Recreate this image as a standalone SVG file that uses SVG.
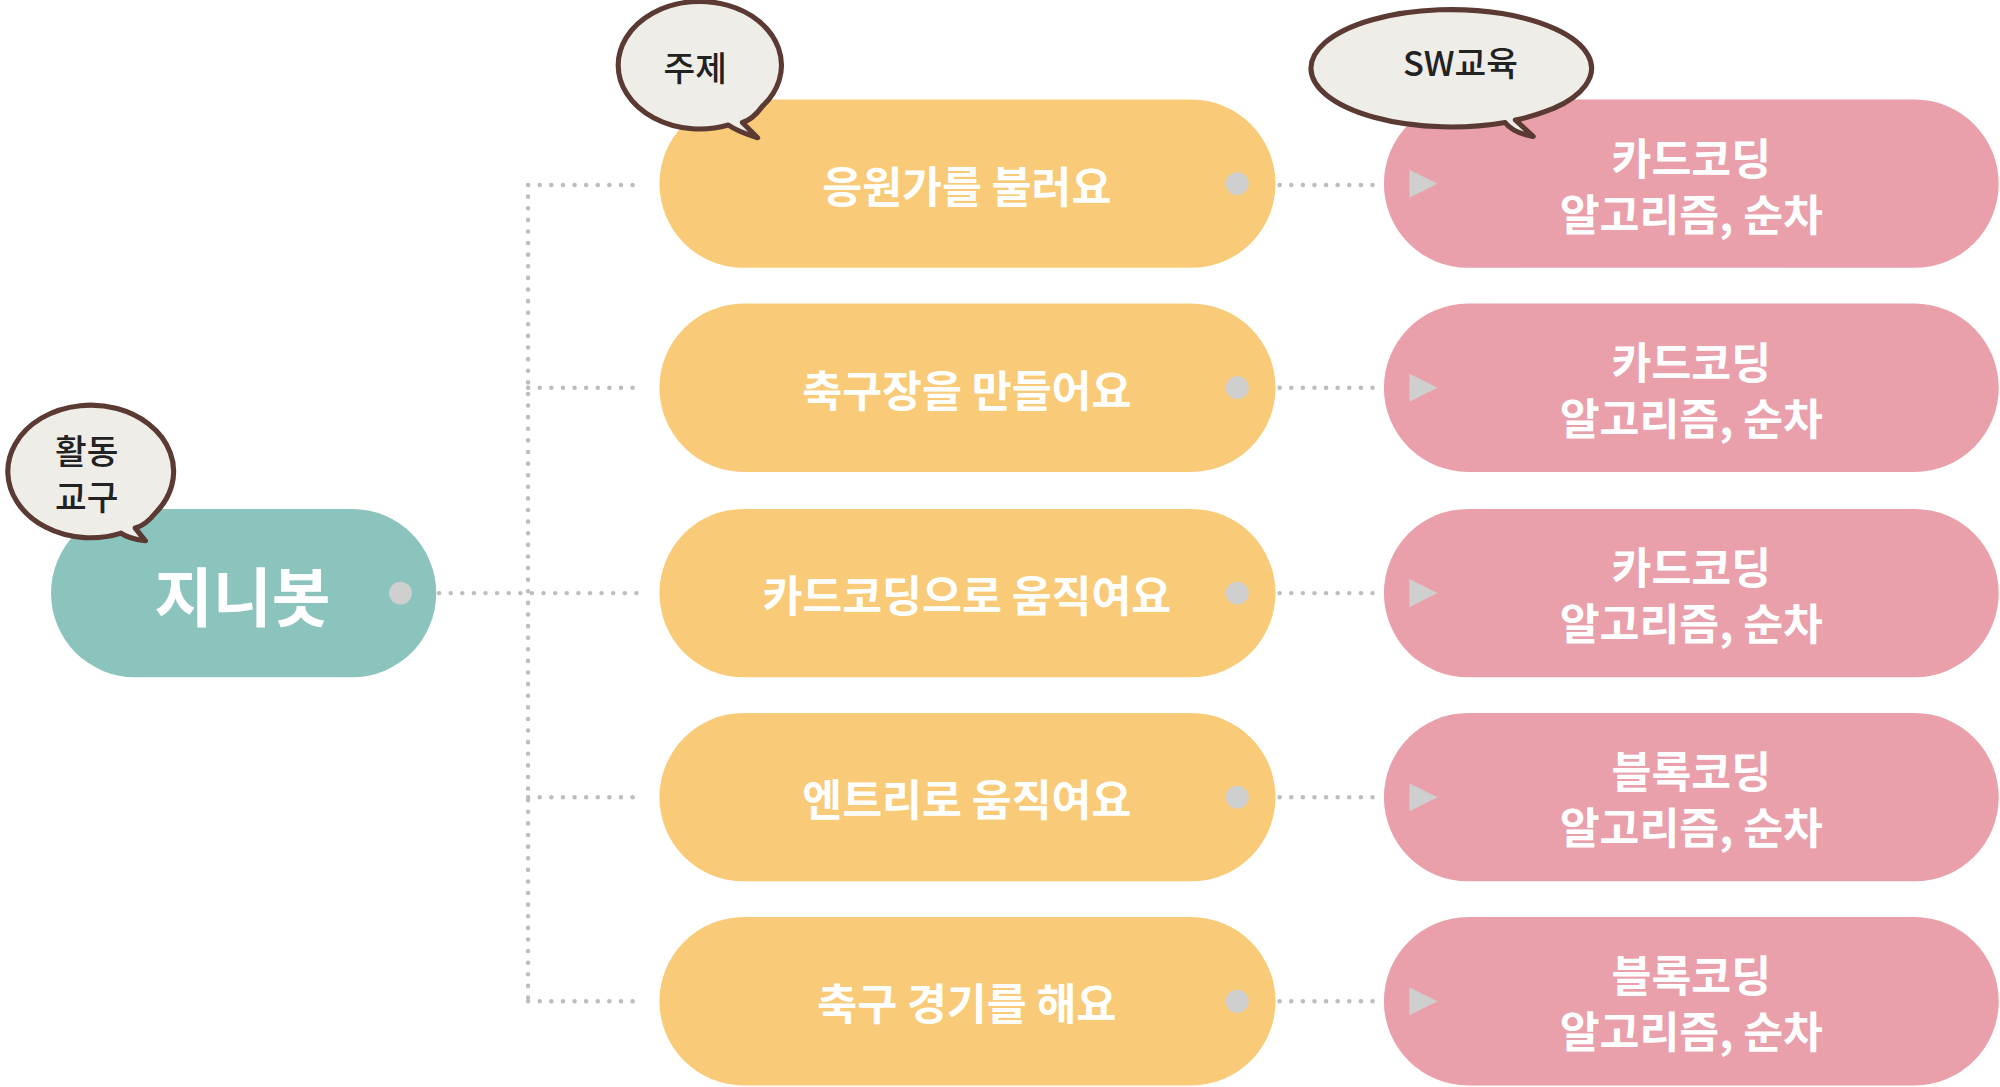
<svg xmlns="http://www.w3.org/2000/svg" width="2000" height="1087" viewBox="0 0 2000 1087">
<style>
.t{font-family:"Noto Sans CJK KR","Noto Sans",sans-serif;font-weight:700;fill:#fff;text-anchor:middle;dominant-baseline:central}
.b{font-family:"Noto Sans CJK KR","Noto Sans",sans-serif;font-weight:500;fill:#222;text-anchor:middle;dominant-baseline:central;font-size:27px}
.y{fill:#f9cb78}.p{fill:#e9a0aa}.d{fill:#cfcfcf}
.bub{fill:#efede8;stroke:#5a3a32;stroke-width:4;stroke-linejoin:round}
.c{stroke:#bdbdbd;stroke-width:3.5;stroke-dasharray:0.1 9;stroke-linecap:round;fill:none}
</style>
<rect width="2000" height="1087" fill="#fff"/>
<g transform="scale(1.2755)">
<g id="connectors">
<path class="c" d="M414 145V785M414 145H505M414 304H505M326 465H505M414 625H505M414 785H505"/>
<path class="c" d="M985 145H1085M985 304H1085M985 465H1085M985 625H1085M985 785H1085"/>
</g>
<g id="root"><rect x="40" y="399" width="302" height="132" rx="66" fill="#8bc3bd"/><text class="t" x="190" y="465" font-size="50">지니봇</text><circle class="d" cx="314" cy="465" r="9"/></g>
<g id="t1"><rect class="y" x="517" y="78" width="483" height="132" rx="66"/><text class="t" x="758" y="144" font-size="34">응원가를 불러요</text><circle class="d" cx="970" cy="144" r="9"/></g>
<g id="t2"><rect class="y" x="517" y="238" width="483" height="132" rx="66"/><text class="t" x="758" y="304" font-size="34">축구장을 만들어요</text><circle class="d" cx="970" cy="304" r="9"/></g>
<g id="t3"><rect class="y" x="517" y="399" width="483" height="132" rx="66"/><text class="t" x="758" y="465" font-size="34">카드코딩으로 움직여요</text><circle class="d" cx="970" cy="465" r="9"/></g>
<g id="t4"><rect class="y" x="517" y="559" width="483" height="132" rx="66"/><text class="t" x="758" y="625" font-size="34">엔트리로 움직여요</text><circle class="d" cx="970" cy="625" r="9"/></g>
<g id="t5"><rect class="y" x="517" y="719" width="483" height="132" rx="66"/><text class="t" x="758" y="785" font-size="34">축구 경기를 해요</text><circle class="d" cx="970" cy="785" r="9"/></g>
<g id="s1"><rect class="p" x="1085" y="78" width="482" height="132" rx="66"/><path class="d" d="M1105 133L1127 144L1105 155Z"/><text class="t" x="1326" y="122" font-size="34">카드코딩</text><text class="t" x="1326" y="166" font-size="34">알고리즘, 순차</text></g>
<g id="s2"><rect class="p" x="1085" y="238" width="482" height="132" rx="66"/><path class="d" d="M1105 293L1127 304L1105 315Z"/><text class="t" x="1326" y="282" font-size="34">카드코딩</text><text class="t" x="1326" y="326" font-size="34">알고리즘, 순차</text></g>
<g id="s3"><rect class="p" x="1085" y="399" width="482" height="132" rx="66"/><path class="d" d="M1105 454L1127 465L1105 476Z"/><text class="t" x="1326" y="443" font-size="34">카드코딩</text><text class="t" x="1326" y="487" font-size="34">알고리즘, 순차</text></g>
<g id="s4"><rect class="p" x="1085" y="559" width="482" height="132" rx="66"/><path class="d" d="M1105 614L1127 625L1105 636Z"/><text class="t" x="1326" y="603" font-size="34">블록코딩</text><text class="t" x="1326" y="647" font-size="34">알고리즘, 순차</text></g>
<g id="s5"><rect class="p" x="1085" y="719" width="482" height="132" rx="66"/><path class="d" d="M1105 774L1127 785L1105 796Z"/><text class="t" x="1326" y="763" font-size="34">블록코딩</text><text class="t" x="1326" y="807" font-size="34">알고리즘, 순차</text></g>
<g id="bubble-topic"><path class="bub" d="M571 98A64 50 0 1 1 598 83Q590 94 582 96L594 108Q578 103 571 98Z"/><text class="b" x="545" y="52">주제</text></g>
<g id="bubble-sw"><path class="bub" d="M1180 96A110 46 0 1 1 1218 85Q1200 92 1188 94L1202 107Q1186 104 1180 96Z"/><text class="b" x="1145" y="48">SW교육</text></g>
<g id="bubble-tool"><path class="bub" d="M95 418A65 52 0 1 1 122 402Q114 412 106 414L114 424Q100 422 95 418Z"/><text class="b" x="68" y="352" font-size="25">활동</text><text class="b" x="68" y="388" font-size="25">교구</text></g>
</g>
</svg>
